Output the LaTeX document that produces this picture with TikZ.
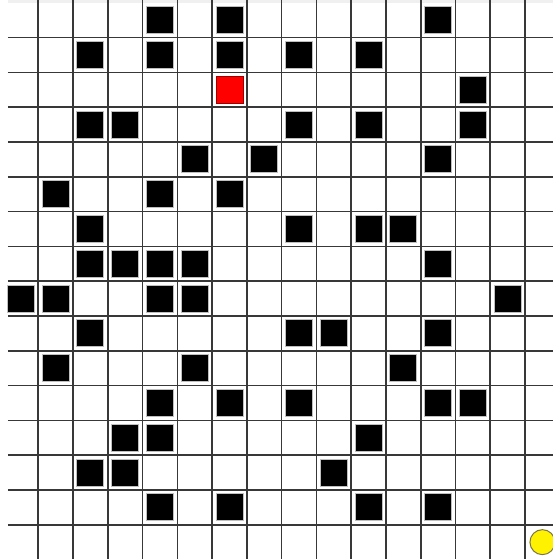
\documentclass[tikz,border=0pt]{standalone}
\begin{document}
\begin{tikzpicture}[x=0.5pt,y=-0.5pt,
  gridline/.style={draw=black!78,line width=0.8pt},
  wall/.style={fill=black,draw=black!25,line width=0.5pt},
  startcell/.style={fill=red,draw=red!60!black,line width=0.5pt},
  goal/.style={fill=yellow,draw=black!60!yellow,line width=0.5pt}]
\def\cs{34.77}\def\ox{3.5}\def\oy{2.9}
\useasboundingbox (0,0) rectangle (553,559);
\fill[white] (0,0) rectangle (553,559);
\fill[black!6] (8,0) rectangle (553,2.9);
% grid lines
\foreach \k in {1,...,15}{
  \draw[gridline] ({\ox+\k*\cs},0) -- ({\ox+\k*\cs},559);
  \draw[gridline] (8,{\oy+\k*34.79}) -- (553,{\oy+\k*34.79});
}
% walls: col/row
\foreach \c/\r in {4/0,6/0,12/0,
  2/1,4/1,6/1,8/1,10/1,
  13/2,
  2/3,3/3,8/3,10/3,13/3,
  5/4,7/4,12/4,
  1/5,4/5,6/5,
  2/6,8/6,10/6,11/6,
  2/7,3/7,4/7,5/7,12/7,
  0/8,1/8,4/8,5/8,14/8,
  2/9,8/9,9/9,12/9,
  1/10,5/10,11/10,
  4/11,6/11,8/11,12/11,13/11,
  3/12,4/12,10/12,
  2/13,3/13,9/13,
  4/14,6/14,10/14,12/14}{
  \draw[wall] ({\ox+\c*\cs+3.9},{\oy+\r*34.79+3.9}) rectangle ++(27,27);
}
\draw[startcell] ({\ox+6*\cs+3.9},{\oy+2*34.79+3.9}) rectangle ++(27,27);
\draw[goal] ({\ox+15.5*\cs},{\oy+15.5*34.79}) circle[radius=12.5];
\end{tikzpicture}
\end{document}
